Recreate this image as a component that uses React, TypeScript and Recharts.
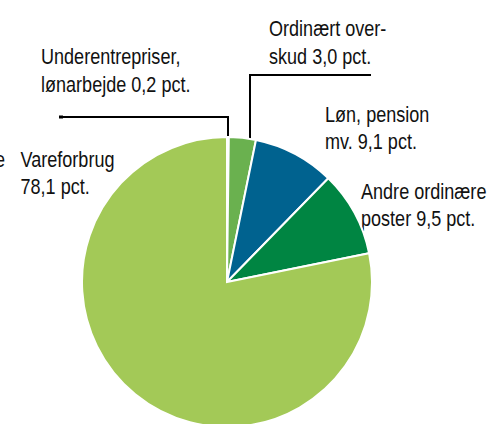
import React from "react";
import { PieChart, Pie, Cell, Customized } from "recharts";

const categories = [
  "Underentrepriser, lønarbejde",
  "Ordinært overskud",
  "Løn, pension mv.",
  "Andre ordinære poster",
  "Vareforbrug",
];
const values = [0.2, 3.0, 9.1, 9.5, 78.1];
const colors = ["#ffffff", "#6AB14F", "#00628F", "#008542", "#A3C957"];

const labelLines: string[][] = [
  ["Underentrepriser,", "lønarbejde 0,2 pct."],
  ["Ordinært over-", "skud 3,0 pct."],
  ["Løn, pension", "mv. 9,1 pct."],
  ["Andre ordinære", "poster 9,5 pct."],
  ["Vareforbrug", "78,1 pct."],
];

const data = categories.map((name, i) => ({ name, value: values[i] }));

const FONT = "'Liberation Sans', Arial, sans-serif";
const FS = 21.5;
const LH = 28;
const SX = 0.84;

const labelPos = [
  { x: 41, y: 64 },
  { x: 269, y: 36 },
  { x: 325, y: 121.5 },
  { x: 361, y: 198.5 },
  { x: 20.5, y: 166.5 },
];

const NarrowText = ({ x, y, lines, anchor }: { x: number; y: number; lines: string[]; anchor?: string }) => (
  <g transform={`translate(${x},${y}) scale(${SX},1)`}>
    <text x={0} y={0} fontFamily={FONT} fontSize={FS} fill="#111111" textAnchor={anchor || "start"}>
      {lines.map((l, j) => (
        <tspan key={j} x={0} dy={j === 0 ? 0 : LH}>
          {l}
        </tspan>
      ))}
    </text>
  </g>
);

const Annotations = () => (
  <g>
    {labelLines.map((lines, i) => (
      <NarrowText key={i} x={labelPos[i].x} y={labelPos[i].y} lines={lines} />
    ))}
    <NarrowText x={5} y={166.5} lines={["e"]} anchor="end" />
    <polyline points="60,117 228,117 228,137" fill="none" stroke="#000" strokeWidth={2} />
    <rect x={59} y={115.5} width={4} height={3} fill="#000" />
    <polyline points="371,75 250,75 250,139" fill="none" stroke="#000" strokeWidth={2} />
  </g>
);

export default function App() {
  return (
    <div style={{ position: "absolute", left: 0, top: 0 }}>
      <PieChart width={490} height={424} margin={{ top: 0, right: 0, bottom: 0, left: 0 }}>
        <Pie
          data={data}
          dataKey="value"
          nameKey="name"
          cx={227}
          cy={282}
          outerRadius={145}
          innerRadius={0}
          startAngle={90}
          endAngle={-270}
          stroke="#ffffff"
          strokeWidth={2}
          isAnimationActive={false}
          labelLine={false}
        >
          {data.map((d, i) => (
            <Cell key={d.name} fill={colors[i]} />
          ))}
        </Pie>
        <Customized component={Annotations} />
      </PieChart>
    </div>
  );
}
